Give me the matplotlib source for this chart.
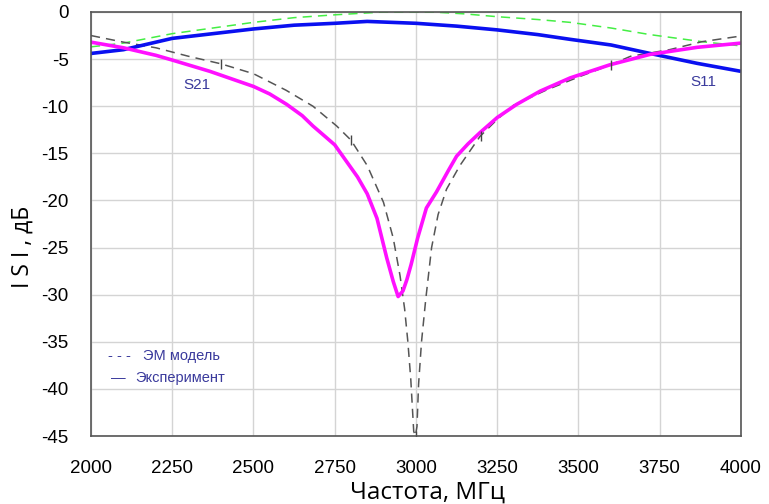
import matplotlib
matplotlib.use("Agg")
import matplotlib.pyplot as plt

plt.rcParams["axes.unicode_minus"] = False

# ---- data ----
f_exp21 = [2000, 2100, 2200, 2250, 2366, 2500, 2550, 2602, 2650, 2683, 2720, 2750, 2787, 2820, 2850,
           2880, 2910, 2930, 2945, 2960, 2972, 2985, 3005, 3032, 3063, 3100, 3125, 3160, 3197, 3250,
           3310, 3382, 3474, 3597, 3720, 3865, 4000]
s_exp21 = [-3.2, -3.8, -4.6, -5.1, -6.3, -7.9, -8.7, -9.8, -11.0, -12.1, -13.2, -14.1, -15.9, -17.5, -19.3,
           -21.9, -26.1, -28.6, -30.2, -29.6, -28.4, -26.8, -24.0, -20.8, -19.1, -16.8, -15.3, -14.0, -12.8, -11.2,
           -9.8, -8.4, -7.0, -5.6, -4.5, -3.75, -3.3]

f_em21 = [2000, 2100, 2200, 2300, 2400, 2500, 2600, 2683, 2756, 2800, 2850, 2900, 2930, 2951, 2965, 2975,
          2984, 2993, 2998, 3003, 3008, 3017, 3030, 3048, 3068, 3094, 3135, 3197, 3250, 3300, 3400,
          3500, 3600, 3660, 3780, 3880, 4000]
s_em21 = [-2.5, -3.2, -3.8, -4.7, -5.5, -6.55, -8.3, -10.0, -12.1, -13.6, -16.3, -20.2, -24.0, -28.0, -31.5, -35.0,
          -39.0, -44.5, -45.0, -44.0, -39.5, -35.0, -30.5, -25.0, -21.5, -18.8, -16.3, -13.2, -11.4, -9.9, -8.3,
          -6.9, -5.6, -4.7, -4.0, -3.15, -2.55]

f_em11 = [2000, 2100, 2250, 2375, 2500, 2625, 2750, 2900, 3050, 3150, 3250, 3375, 3474, 3600, 3720, 3880, 4000]
s_em11 = [-3.7, -3.3, -2.3, -1.7, -1.1, -0.6, -0.3, 0.0, 0.0, -0.2, -0.5, -0.8, -1.1, -1.7, -2.4, -3.15, -3.6]

f_exp11 = [2000, 2100, 2250, 2375, 2500, 2625, 2750, 2850, 3000, 3125, 3250, 3375, 3474, 3600, 3720, 3865, 4000]
s_exp11 = [-4.4, -4.0, -2.8, -2.3, -1.8, -1.4, -1.2, -1.0, -1.2, -1.5, -1.9, -2.4, -2.9, -3.5, -4.4, -5.45, -6.3]

mark_f = [2400, 2800, 3000, 3200, 3600]
mark_s = [-5.5, -13.6, -45.0, -13.2, -5.6]

x_ticks = [2000, 2250, 2500, 2750, 3000, 3250, 3500, 3750, 4000]
y_ticks = [0, -5, -10, -15, -20, -25, -30, -35, -40, -45]

label_x = "Частота, МГц"
label_y = "I S I , дБ"
legend_labels = ["ЭМ модель", "Эксперимент"]

# ---- plot ----
fig = plt.figure(figsize=(7.69, 5.04), dpi=100)
ax = fig.add_axes([0.1183, 0.1349, 0.8453, 0.8413])

txtc = "#3a3a9c"

ax.plot(f_em11, s_em11, color="#44ee44", lw=1.1, dashes=(6, 4))
ax.plot(f_em21, s_em21, color="#555555", lw=1.1, dashes=(6, 4))
ax.plot(f_exp11, s_exp11, color="#0a10f0", lw=2.6, solid_capstyle="butt")
ax.plot(f_exp21, s_exp21, color="#ff10ff", lw=2.6, solid_capstyle="butt")
ax.plot(mark_f, mark_s, ls="none", marker="|", ms=7, mew=1.0, color="#444444")

ax.set_xlim(2000, 4000)
ax.set_ylim(-45, 0)
ax.set_xticks(x_ticks)
ax.set_yticks(y_ticks)
ax.grid(True, color="#d4d4d4", lw=1.0)
ax.set_axisbelow(True)
ax.tick_params(length=0, labelsize=13.5)
ax.tick_params(axis="x", pad=17)
ax.tick_params(axis="y", pad=16)
for lab in ax.get_xticklabels() + ax.get_yticklabels():
    lab.set_family("Liberation Sans")
for sp in ax.spines.values():
    sp.set_color("#555555")
    sp.set_linewidth(1.2)

ax.set_xlabel(label_x, fontsize=17.5, family="Open Sans")
ax.xaxis.set_label_coords(0.518, -0.105)
ax.xaxis.label.set_va("top")
ax.set_ylabel(label_y, fontsize=16.5, family="Open Sans")
ax.yaxis.set_label_coords(-0.086, 0.446)

ax.text(2326, -7.75, "S21", color=txtc, fontsize=11, family="Liberation Sans", ha="center", va="center")
ax.text(3883, -7.4, "S11", color=txtc, fontsize=11, family="Liberation Sans", ha="center", va="center")

ax.text(0.026, 0.189, "- - -", transform=ax.transAxes, color=txtc, fontsize=10.5,
        family="Liberation Sans", va="center")
ax.text(0.08, 0.189, legend_labels[0], transform=ax.transAxes, color=txtc, fontsize=10.5,
        family="Liberation Sans", va="center")
ax.text(0.031, 0.137, "—", transform=ax.transAxes, color=txtc, fontsize=10.5,
        family="Liberation Sans", va="center")
ax.text(0.068, 0.137, legend_labels[1], transform=ax.transAxes, color=txtc, fontsize=10.5,
        family="Liberation Sans", va="center")

fig.savefig("out.png", dpi=100)
